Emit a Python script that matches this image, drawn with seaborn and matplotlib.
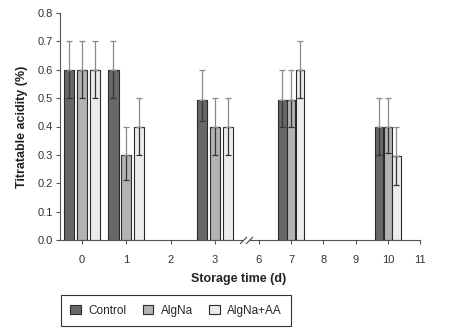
import matplotlib
matplotlib.use("Agg")
import matplotlib.pyplot as plt
import seaborn as sns
import pandas as pd
import numpy as np

# storage days with measurements
days = [0, 1, 3, 7, 10]
treatments = ['Control', 'AlgNa', 'AlgNa+AA']

control = [0.60, 0.60, 0.495, 0.495, 0.40]
algna = [0.60, 0.30, 0.40, 0.495, 0.40]
algna_aa = [0.60, 0.40, 0.40, 0.60, 0.295]

# error bars (lower / upper)
control_lo = [0.10, 0.10, 0.075, 0.095, 0.10]
control_hi = [0.10, 0.10, 0.105, 0.105, 0.10]
algna_lo = [0.10, 0.09, 0.10, 0.095, 0.095]
algna_hi = [0.10, 0.10, 0.10, 0.105, 0.10]
algna_aa_lo = [0.10, 0.10, 0.10, 0.10, 0.10]
algna_aa_hi = [0.10, 0.10, 0.10, 0.10, 0.105]

ticks_left = [0, 1, 2, 3]
ticks_right = [6, 7, 8, 9, 10, 11]

df = pd.DataFrame({'day': days * 3,
                   'treatment': np.repeat(treatments, len(days)),
                   'value': control + algna + algna_aa,
                   'lo': control_lo + algna_lo + algna_aa_lo,
                   'hi': control_hi + algna_hi + algna_aa_hi})

sns.set_style('ticks')
plt.rcParams['font.family'] = ['Liberation Sans', 'DejaVu Sans']
plt.rcParams['font.size'] = 8

colors = ['#686868', '#b3b3b3', '#ececec']
W, H = 463, 332
fig = plt.figure(figsize=(W / 100, H / 100), dpi=100)
axl = fig.add_axes([60 / W, 92 / H, 183 / W, 227 / H])
axr = fig.add_axes([249 / W, 92 / H, 171 / W, 227 / H])

# (axis, subset, bar width param, gap, hue step in data units, xlim, ticks)
parts = [
    (axl, df[df.day <= 3], 0.87, 0.22, 0.29, (-0.496, 3.63), ticks_left),
    (axr, df[df.day > 3], 0.27, 0.05, 0.27, (5.69, 11.0), ticks_right),
]

for ax, sub, w, g, step, xlim, ticks in parts:
    sns.barplot(data=sub, x='day', y='value', hue='treatment', hue_order=treatments,
                native_scale=True, palette=colors, width=w, gap=g, errorbar=None,
                edgecolor='#2a2a2a', linewidth=0.8, ax=ax, legend=(ax is axl))
    for i, t in enumerate(treatments):
        s = sub[sub.treatment == t]
        xs = s.day + (i - 1) * step
        ax.errorbar(xs, s.value, yerr=[s.lo, np.zeros(len(s))], fmt='none',
                    ecolor='#333333', elinewidth=0.9, capsize=2.5, capthick=0.9, zorder=5)
        ax.errorbar(xs, s.value, yerr=[np.zeros(len(s)), s.hi], fmt='none',
                    ecolor='#8a8a8a', elinewidth=0.9, capsize=2.5, capthick=0.9, zorder=5)
    ax.set_xlim(*xlim)
    ax.set_ylim(0, 0.8)
    ax.set_xticks(ticks)
    ax.set_xticklabels([str(t) for t in ticks])
    ax.set_xlabel('')
    ax.set_ylabel('')
    ax.tick_params(length=3, width=0.8, color='#555555', labelcolor='#333333', pad=8)
    for sp in ['top', 'right']:
        ax.spines[sp].set_visible(False)
    for sp in ['left', 'bottom']:
        ax.spines[sp].set_color('#555555')
        ax.spines[sp].set_linewidth(0.8)

axl.set_yticks(np.arange(0, 0.81, 0.1))
axl.set_yticklabels([f'{v:.1f}' for v in np.arange(0, 0.81, 0.1)])
axl.tick_params(axis='y', pad=2)
axr.spines['left'].set_visible(False)
axr.tick_params(axis='y', left=False, labelleft=False)

# axis break marks
kw = dict(marker=[(-1, -1), (1, 1)], markersize=5, linestyle='none', color='#444444',
          mec='#444444', mew=0.8, clip_on=False)
axl.plot([1], [0], transform=axl.transAxes, **kw)
axr.plot([0], [0], transform=axr.transAxes, **kw)

lab = dict(weight='bold', family=['Liberation Sans Narrow', 'Liberation Sans', 'DejaVu Sans'],
           fontsize=9, color='#222222')
fig.text(239 / W, 1 - 279 / H, 'Storage time (d)', ha='center', va='center', **lab)
fig.text(22 / W, 1 - 127 / H, 'Titratable acidity (%)', ha='center', va='center',
         rotation=90, **lab)

sns.move_legend(axl, loc='lower left', bbox_to_anchor=(61 / W, 6 / H),
                bbox_transform=fig.transFigure, ncol=3, title=None, frameon=True,
                fancybox=False, edgecolor='black', handlelength=0.9, handleheight=0.9,
                columnspacing=1.4, handletextpad=0.6, borderpad=0.8, borderaxespad=0,
                fontsize=8.5)
axl.get_legend().get_frame().set_linewidth(0.8)

fig.savefig('out.png', dpi=100)
